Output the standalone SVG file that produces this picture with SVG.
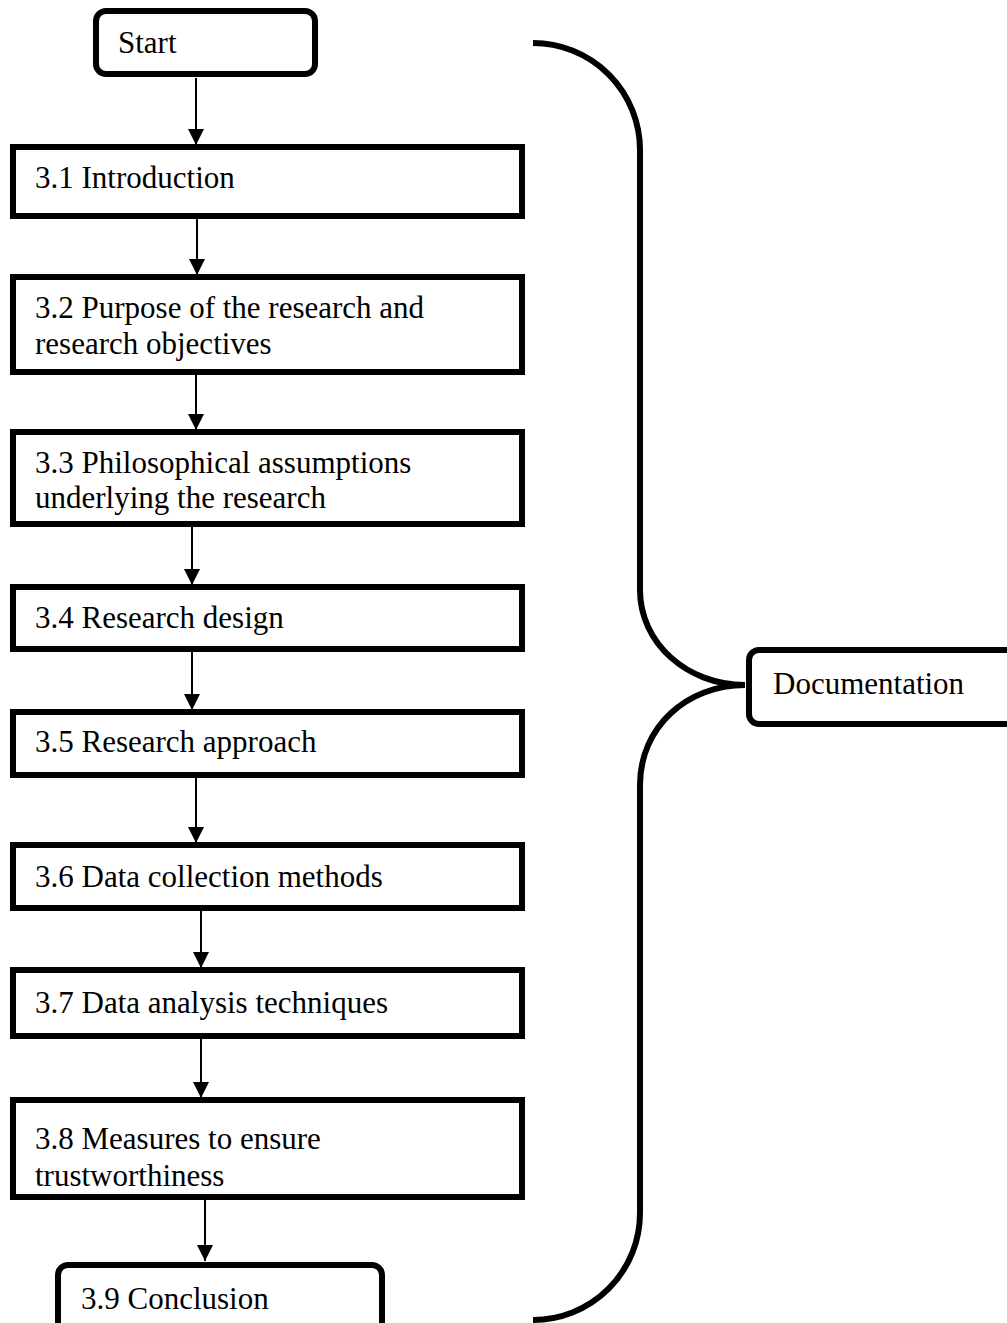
<svg xmlns="http://www.w3.org/2000/svg" width="1007" height="1323" viewBox="0 0 1007 1323">
<style>
.box{fill:#fff;stroke:#000;stroke-width:6}
.lbl{font-family:"Liberation Serif","Times New Roman",serif;font-size:31px;fill:#000}
.arr{stroke:#000;stroke-width:2;fill:none}
.brace{stroke:#000;stroke-width:6;fill:none}
</style>
<defs>
<marker id="ah" markerWidth="16" markerHeight="18" refX="8" refY="17" orient="auto" markerUnits="userSpaceOnUse" viewBox="0 0 16 18">
<path d="M0,0 L16,0 L8,17 Z" fill="#000" transform="rotate(-90 8 9)"/>
</marker>
<marker id="ah2" markerWidth="16" markerHeight="18" refX="16" refY="8" orient="auto" markerUnits="userSpaceOnUse" viewBox="0 0 16 16">
<path d="M0,0 L16,8 L0,16 Z" fill="#000"/>
</marker>
</defs>
<rect width="1007" height="1323" fill="#fff"/>
<g id="connectors">
<line class="arr" x1="196" y1="78" x2="196" y2="145" marker-end="url(#ah2)"/>
<line class="arr" x1="197" y1="219" x2="197" y2="275" marker-end="url(#ah2)"/>
<line class="arr" x1="196" y1="375" x2="196" y2="430" marker-end="url(#ah2)"/>
<line class="arr" x1="192" y1="527" x2="192" y2="585" marker-end="url(#ah2)"/>
<line class="arr" x1="192" y1="652" x2="192" y2="710" marker-end="url(#ah2)"/>
<line class="arr" x1="196" y1="778" x2="196" y2="843" marker-end="url(#ah2)"/>
<line class="arr" x1="201" y1="911" x2="201" y2="968" marker-end="url(#ah2)"/>
<line class="arr" x1="201" y1="1039" x2="201" y2="1098" marker-end="url(#ah2)"/>
<line class="arr" x1="205" y1="1200" x2="205" y2="1261" marker-end="url(#ah2)"/>
<path class="brace" d="M533,43 A107,107 0 0 1 640,150 L640,590 C640,643 687,685 745,685 C687,685 640,727 640,785 L640,1213 A107,107 0 0 1 533,1320"/>
</g>
<g id="start">
<rect class="box" x="96" y="11" width="219" height="63" rx="10"/>
<text class="lbl" x="118" y="53">Start</text>
</g>
<g id="n31">
<rect class="box" x="13" y="147" width="509" height="69"/>
<text class="lbl" x="35" y="188">3.1 Introduction</text>
</g>
<g id="n32">
<rect class="box" x="13" y="277" width="509" height="95"/>
<text class="lbl" x="35" y="318">3.2 Purpose of the research and</text>
<text class="lbl" x="35" y="354">research objectives</text>
</g>
<g id="n33">
<rect class="box" x="13" y="432" width="509" height="92"/>
<text class="lbl" x="35" y="473">3.3 Philosophical assumptions</text>
<text class="lbl" x="35" y="508">underlying the research</text>
</g>
<g id="n34">
<rect class="box" x="13" y="587" width="509" height="62"/>
<text class="lbl" x="35" y="628">3.4 Research design</text>
</g>
<g id="n35">
<rect class="box" x="13" y="712" width="509" height="63"/>
<text class="lbl" x="35" y="752">3.5 Research approach</text>
</g>
<g id="n36">
<rect class="box" x="13" y="845" width="509" height="63"/>
<text class="lbl" x="35" y="887">3.6 Data collection methods</text>
</g>
<g id="n37">
<rect class="box" x="13" y="970" width="509" height="66"/>
<text class="lbl" x="35" y="1013">3.7 Data analysis techniques</text>
</g>
<g id="n38">
<rect class="box" x="13" y="1100" width="509" height="97"/>
<text class="lbl" x="35" y="1149">3.8 Measures to ensure</text>
<text class="lbl" x="35" y="1186">trustworthiness</text>
</g>
<g id="n39">
<rect class="box" x="58" y="1265" width="324" height="72" rx="10"/>
<text class="lbl" x="81" y="1309">3.9 Conclusion</text>
</g>
<g id="documentation">
<rect class="box" x="749" y="650" width="280" height="74" rx="10"/>
<text class="lbl" x="773" y="694">Documentation</text>
</g>
</svg>
